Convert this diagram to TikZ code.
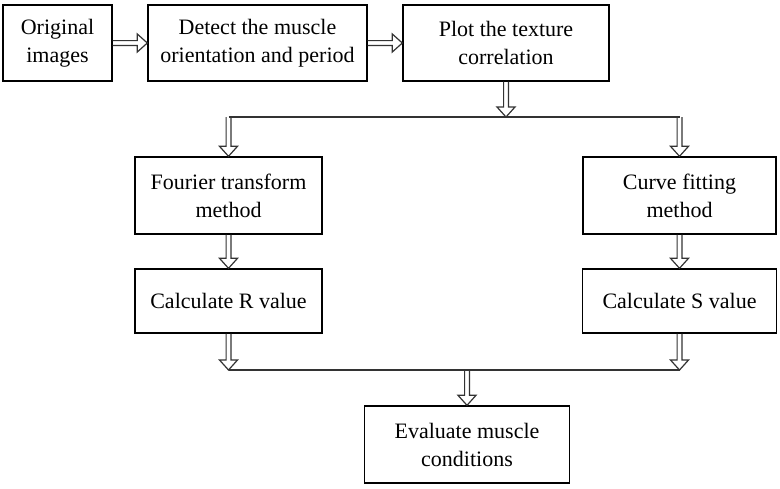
\documentclass[tikz,border=0pt]{standalone}
\usepackage{fontspec}
\setmainfont{Liberation Serif}
\usetikzlibrary{calc, positioning}

\tikzset{
    stepbox/.style={draw, line width=0.7pt, align=center, inner sep=2pt,
        font=\fontsize{11}{14}\selectfont},
    wire/.style={line width=0.6pt, black!80},
}

\begin{document}
\begin{tikzpicture}[x=0.5pt, y=-0.5pt]

    \NewDocumentCommand{\hollowarrow}{ m m }{
        \draw[wire] let \p1=(#1), \p2=(#2),
            \n1={atan2(\y2-\y1,\x2-\x1)}, \n2={veclen(\x2-\x1,\y2-\y1)} in
            [shift={(\p1)}, rotate=\n1]
            (0pt,1.2pt) -- (\n2-5pt,1.2pt) -- (\n2-5pt,4.5pt) -- (\n2,0pt)
            -- (\n2-5pt,-4.5pt) -- (\n2-5pt,-1.2pt) -- (0pt,-1.2pt);
    }

    \useasboundingbox (0,0) rectangle (780,488);

    %% Top row
    \node[stepbox, minimum width=54.5pt, minimum height=38pt] (orig) at (57.5,43) {Original\\images};
    \node[stepbox, minimum width=109.5pt, minimum height=38pt] (detect) at (257.5,43) {Detect the muscle\\orientation and period};
    \node[stepbox, minimum width=103pt, minimum height=38pt] (plot) at (506,43) {Plot the texture\\correlation};

    %% Two methods
    \node[stepbox, minimum width=93.5pt, minimum height=38.5pt] (fourier) at (228.5,195.5) {Fourier transform\\method};
    \node[stepbox, minimum width=96.5pt, minimum height=38.5pt] (curve) at (679.5,195.5) {Curve fitting\\method};
    \node[stepbox, minimum width=93.5pt, minimum height=32pt] (calcr) at (228.5,301) {Calculate R value};
    \node[stepbox, minimum width=97pt, minimum height=32pt] (calcs) at (679.5,301) {Calculate S value};

    %% Result
    \node[stepbox, minimum width=102.5pt, minimum height=38.5pt] (eval) at (467,444.5) {Evaluate muscle\\conditions};

    % Branch and join rows
    \coordinate (splitrow) at (0,117);
    \coordinate (joinrow) at (0,370);
    \coordinate (split) at (plot.south |- splitrow);
    \coordinate (fsplit) at (fourier.north |- splitrow);
    \coordinate (csplit) at (curve.north |- splitrow);
    \coordinate (rjoin) at (calcr.south |- joinrow);
    \coordinate (sjoin) at (calcs.south |- joinrow);
    \coordinate (ejoin) at (eval.north |- joinrow);
    \draw[wire] (fsplit) -- (csplit);
    \draw[wire] (rjoin) -- (sjoin);

    % Arrows
    \hollowarrow{orig.east}{detect.west}
    \hollowarrow{detect.east}{plot.west}
    \hollowarrow{plot.south}{split}
    \hollowarrow{fsplit}{fourier.north}
    \hollowarrow{csplit}{curve.north}
    \hollowarrow{fourier.south}{calcr.north}
    \hollowarrow{curve.south}{calcs.north}
    \hollowarrow{calcr.south}{rjoin}
    \hollowarrow{calcs.south}{sjoin}
    \hollowarrow{ejoin}{eval.north}

\end{tikzpicture}
\end{document}
